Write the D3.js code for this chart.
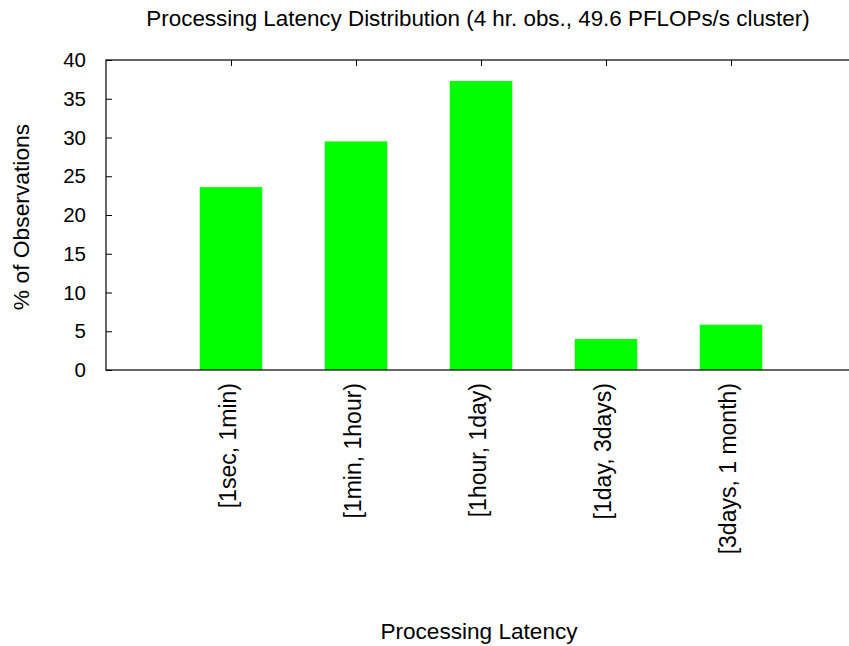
<!DOCTYPE html>
<html>
<head>
<meta charset="utf-8">
<script src="https://cdn.jsdelivr.net/npm/d3@7"></script>
<style>
  html, body { margin: 0; padding: 0; background: #fff; }
  svg { display: block; font-family: "Liberation Sans", Arial, sans-serif; }
</style>
</head>
<body>
<svg id="chart" width="849" height="646"></svg>
<script>
// Latency buckets and share of observations (%)
const categories = ["[1sec, 1min)", "[1min, 1hour)", "[1hour, 1day)", "[1day, 3days)", "[3days, 1 month)"];
const percentages = [23.6, 29.5, 37.3, 4.0, 5.85];
const yTicks = [0, 5, 10, 15, 20, 25, 30, 35, 40];

const titleText = "Processing Latency Distribution (4 hr. obs., 49.6 PFLOPs/s cluster)";
const xTitle = "Processing Latency";
const yTitle = "% of Observations";

const svg = d3.select("#chart");
const margin = { left: 106, top: 60, bottom: 370 };
const slotCount = categories.length + 1;   // one empty slot at each end
const slotWidth = 125;
const right = margin.left + slotCount * slotWidth;

const x = d3.scaleLinear().domain([0, slotCount]).range([margin.left, right]);
const y = d3.scaleLinear().domain([0, 40]).range([margin.bottom, margin.top]);
const barWidth = 0.5;

// Bars
svg.append("g")
  .selectAll("rect")
  .data(percentages)
  .join("rect")
  .attr("x", (d, i) => x(i + 1 - barWidth / 2))
  .attr("width", x(barWidth) - x(0))
  .attr("y", d => y(d))
  .attr("height", d => y(0) - y(d))
  .attr("fill", "#00ff00");

// Left axis with inward ticks
const yAxis = d3.axisLeft(y).tickValues(yTicks).tickSize(-6).tickPadding(20).tickSizeOuter(0);
const gy = svg.append("g").attr("transform", `translate(${margin.left},0)`).call(yAxis);
gy.select(".domain").remove();
gy.selectAll("line").attr("stroke", "#000");
gy.selectAll("text").attr("font-size", 20.5).attr("fill", "#000").attr("font-family", "Liberation Sans, Arial, sans-serif");

// Top mirror ticks at category centres
const topAxis = d3.axisTop(x).tickValues(categories.map((c, i) => i + 1)).tickSize(-6).tickFormat("");
const gt = svg.append("g").attr("transform", `translate(0,${margin.top})`).call(topAxis);
gt.select(".domain").remove();
gt.selectAll("line").attr("stroke", "#000");

// Frame
svg.append("rect")
  .attr("x", margin.left).attr("y", margin.top)
  .attr("width", right - margin.left).attr("height", margin.bottom - margin.top)
  .attr("fill", "none").attr("stroke", "#000").attr("stroke-width", 1.2);

// Rotated category labels
svg.append("g")
  .selectAll("text")
  .data(categories)
  .join("text")
  .attr("transform", (d, i) => `translate(${x(i + 1) + 5},383) rotate(-90)`)
  .attr("text-anchor", "end")
  .attr("font-size", 23)
  .attr("fill", "#000")
  .text(d => d);

// Titles
svg.append("text")
  .attr("x", 478).attr("y", 26)
  .attr("text-anchor", "middle").attr("font-size", 22.4).attr("fill", "#000")
  .text(titleText);

svg.append("text")
  .attr("x", 479).attr("y", 639)
  .attr("text-anchor", "middle").attr("font-size", 22.6).attr("fill", "#000")
  .text(xTitle);

svg.append("text")
  .attr("transform", "translate(29,217) rotate(-90)")
  .attr("text-anchor", "middle").attr("font-size", 22.8).attr("fill", "#000")
  .text(yTitle);
</script>
</body>
</html>
